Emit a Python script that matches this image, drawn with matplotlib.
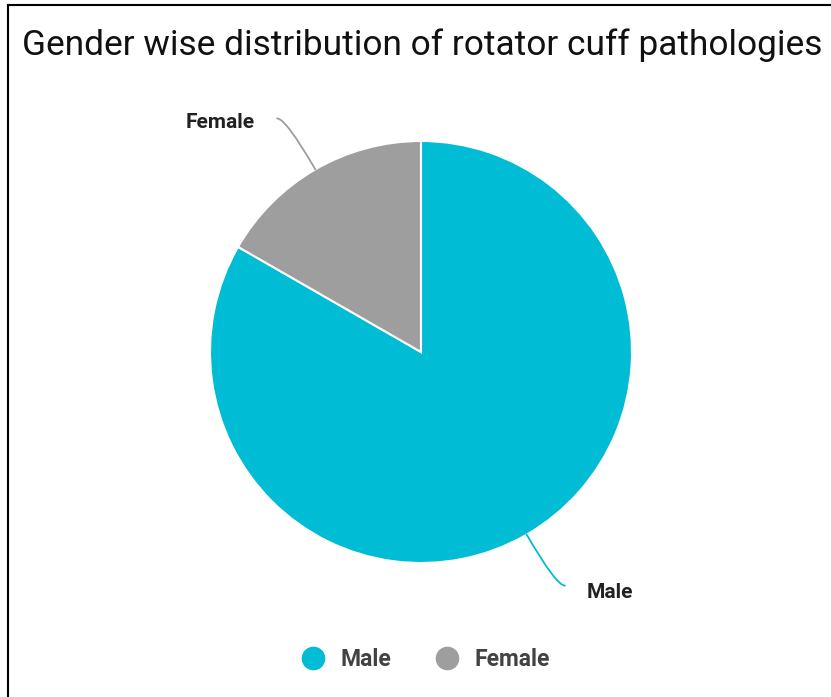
import numpy as np
import matplotlib
matplotlib.use("Agg")
import matplotlib.pyplot as plt
from matplotlib.lines import Line2D

# Data
categories = ["Male", "Female"]
values = [83.3, 16.7]
colors = ["#00BCD4", "#9E9E9E"]
title = "Gender wise distribution of rotator cuff pathologies"

W, H, DPI = 831, 697, 100
fig = plt.figure(figsize=(W / DPI, H / DPI), dpi=DPI)
fig.patch.set_facecolor("white")

# pie axes: center (421,352) px, radius 211 px
cx, cy, r = 421, 352, 211
ax = fig.add_axes([(cx - r) / W, (H - cy - r) / H, 2 * r / W, 2 * r / H])

wedges, _ = ax.pie(values, colors=colors, startangle=90, counterclock=False,
                   radius=1.0, wedgeprops=dict(edgecolor="white", linewidth=1.5))
ax.set_xlim(-1, 1)
ax.set_ylim(-1, 1)
ax.set_aspect("equal")
ax.axis("off")

# leader lines and labels
for w, lab, col in zip(wedges, categories, colors):
    theta = np.deg2rad((w.theta1 + w.theta2) / 2)
    p0 = np.array([np.cos(theta), np.sin(theta)])
    pe = np.array([np.sign(p0[0]) * 0.682, np.sign(p0[1]) * 1.107])
    ang_b = np.degrees(theta)
    ax.annotate("", xy=p0, xytext=pe, annotation_clip=False,
                arrowprops=dict(arrowstyle="-", color=col, lw=1.3,
                                shrinkA=0, shrinkB=0,
                                connectionstyle=f"angle3,angleA=0,angleB={ang_b}"))
    gap = 0.104
    if p0[0] < 0:
        ax.text(pe[0] - gap, pe[1] - 0.02, lab, ha="right", va="center",
                fontsize=15, fontweight="bold", family="Roboto", color="#212121")
    else:
        ax.text(pe[0] + gap, pe[1] - 0.035, lab, ha="left", va="center",
                fontsize=15, fontweight="bold", family="Roboto", color="#212121")

# title
fig.text(22 / W, 1 - 45 / H, title, ha="left", va="center",
         fontsize=25.4, family="Roboto", color="#111111")

# legend
handles = [Line2D([], [], marker="o", linestyle="none", markersize=16,
                  markerfacecolor=c, markeredgecolor=c) for c in colors]
leg = fig.legend(handles, categories, loc="center", ncol=2,
                 bbox_to_anchor=(422 / W, 1 - 660 / H), frameon=False,
                 handletextpad=0.4, columnspacing=1.65, handlelength=1.6,
                 prop=dict(family="Roboto", weight="bold", size=16.5))
for t in leg.get_texts():
    t.set_color("#424242")

# border lines (left and top)
fig.add_artist(Line2D([8 / W, 8 / W], [0, 1 - 5 / H], transform=fig.transFigure,
                      color="black", lw=1.5))
fig.add_artist(Line2D([8 / W, 1], [1 - 5 / H, 1 - 5 / H], transform=fig.transFigure,
                      color="black", lw=1.5))

fig.savefig("out.png", dpi=DPI)
